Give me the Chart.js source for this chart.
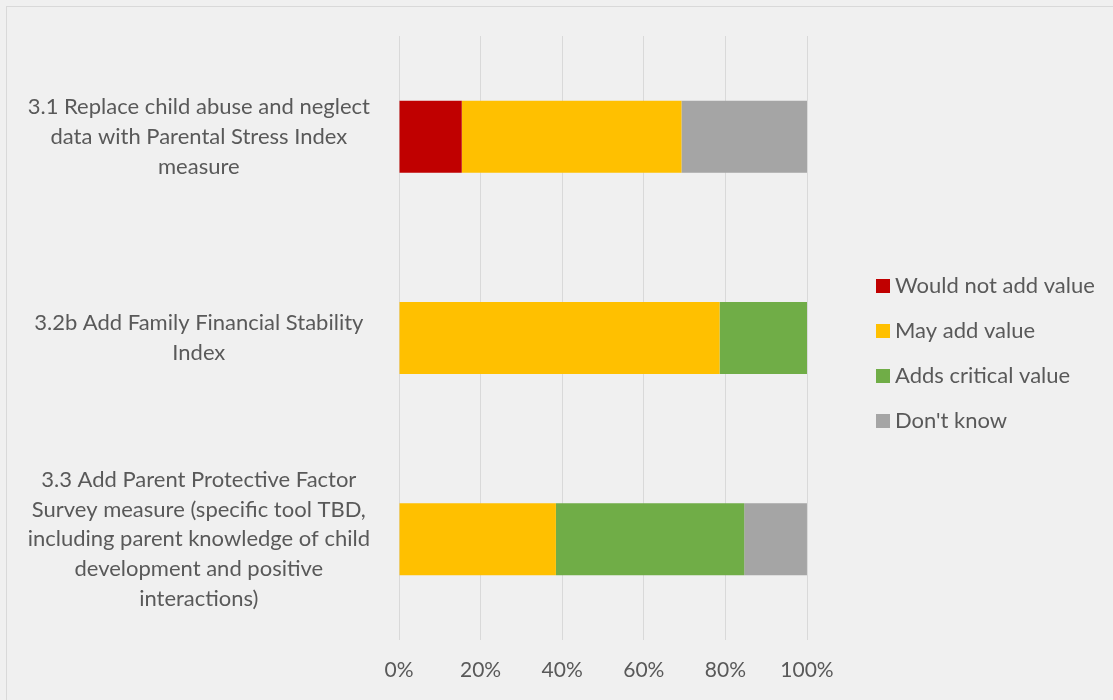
<!DOCTYPE html>
<html>
<head>
<meta charset="utf-8">
<script src="https://cdn.jsdelivr.net/npm/chart.js@4/dist/chart.umd.min.js"></script>
<style>
  html, body { margin: 0; padding: 0; background: #f0f0f0; }
  #wrap { width: 1113px; height: 700px; position: relative; }
</style>
</head>
<body>
<div id="wrap"><canvas id="c" width="1113" height="700"></canvas></div>
<script>
const categories = [
  ["3.1 Replace child abuse and neglect", "data with Parental Stress Index", "measure"],
  ["3.2b Add Family Financial Stability", "Index"],
  ["3.3 Add Parent Protective Factor", "Survey measure (specific tool TBD,", "including parent knowledge of child", "development and positive", "interactions)"]
];
const seriesNames = ["Would not add value", "May add value", "Adds critical value", "Don't know"];
const wouldNotAddValue = [15.38, 0, 0];
const mayAddValue = [53.85, 78.57, 38.46];
const addsCriticalValue = [0, 21.43, 46.15];
const dontKnow = [30.77, 0, 15.38];
const xTickValues = [0, 20, 40, 60, 80, 100];

const colors = ["#C00000", "#FFC000", "#70AD47", "#A5A5A5"];
const FONT = "Lato, 'Open Sans', sans-serif";
const TEXT = "#595959";

const bgPlugin = {
  id: "bg",
  beforeDraw(chart) {
    const ctx = chart.ctx;
    ctx.save();
    ctx.fillStyle = "#f0f0f0";
    ctx.fillRect(0, 0, chart.width, chart.height);
    ctx.strokeStyle = "#d9d9d9";
    ctx.lineWidth = 1;
    ctx.strokeRect(6.5, 6.5, chart.width - 6, chart.height + 10);
    ctx.restore();
  }
};

const legendPlugin = {
  id: "sideLegend",
  afterDraw(chart) {
    const ctx = chart.ctx;
    const area = chart.chartArea;
    const ds = chart.data.datasets;
    const spacing = 45;
    const box = 14;
    const x0 = area.right + 69;
    const midY = (area.top + area.bottom) / 2 + 15;
    const startY = midY - spacing * (ds.length - 1) / 2;
    ctx.save();
    ctx.font = "22px " + FONT;
    ctx.textBaseline = "middle";
    ctx.textAlign = "left";
    ds.forEach((d, i) => {
      const y = startY + i * spacing;
      ctx.fillStyle = d.backgroundColor;
      ctx.fillRect(x0, Math.round(y - box / 2), box, box);
      ctx.fillStyle = TEXT;
      ctx.fillText(d.label, x0 + box + 5, y);
    });
    ctx.restore();
  }
};

const seriesData = [wouldNotAddValue, mayAddValue, addsCriticalValue, dontKnow];

new Chart(document.getElementById("c"), {
  type: "bar",
  data: {
    labels: categories,
    datasets: seriesNames.map((name, i) => ({
      label: name,
      data: seriesData[i],
      backgroundColor: colors[i],
      borderWidth: 0,
      categoryPercentage: 1,
      barPercentage: 0.358
    }))
  },
  options: {
    indexAxis: "y",
    responsive: false,
    animation: false,
    layout: { padding: { top: 36, right: 306, bottom: 0, left: 10 } },
    plugins: {
      legend: { display: false },
      tooltip: { enabled: false }
    },
    scales: {
      x: {
        stacked: true,
        min: 0,
        max: 100,
        afterBuildTicks(scale) { scale.ticks = xTickValues.map(v => ({ value: v })); },
        afterFit(scale) { scale.height = 60; scale.paddingLeft = 0; scale.paddingRight = 0; },
        ticks: {
          callback: v => v + "%",
          color: TEXT,
          font: { family: FONT, size: 21 },
          padding: 18,
          maxRotation: 0
        },
        grid: { color: "#d9d9d9", drawTicks: false, lineWidth: 1 },
        border: { display: false }
      },
      y: {
        stacked: true,
        afterFit(scale) { scale.width = 389; scale.paddingTop = 0; scale.paddingBottom = 0; },
        ticks: {
          color: TEXT,
          font: { family: FONT, size: 22, lineHeight: 1.36 },
          crossAlign: "center",
          padding: 29
        },
        grid: { display: false, drawTicks: false },
        border: { display: false }
      }
    }
  },
  plugins: [bgPlugin, legendPlugin]
});
</script>
</body>
</html>
